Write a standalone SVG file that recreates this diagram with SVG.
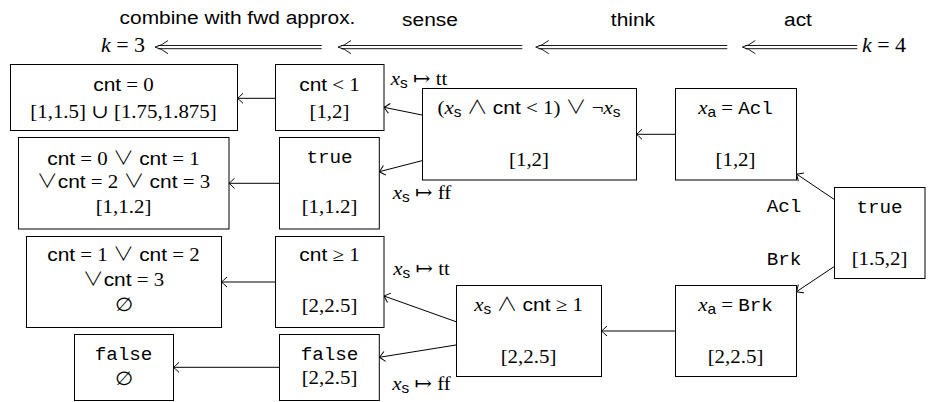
<svg xmlns="http://www.w3.org/2000/svg" width="928" height="402" viewBox="0 0 928 402">
<defs>
<style>
.box{fill:#fff;stroke:#000;stroke-width:1}
.edge{fill:none;stroke:#000;stroke-width:1;marker-end:url(#to)}
.dbl{fill:none;stroke:#000;stroke-width:0.9}
text{font-family:"Liberation Serif","DejaVu Serif",serif;font-size:19px;text-anchor:middle;fill:#000;transform-box:fill-box;transform-origin:center;transform:scaleX(1.1)}
.lbl{font-family:"Liberation Sans","DejaVu Sans",sans-serif;font-size:19px}
.sf{font-family:"Liberation Sans","DejaVu Sans",sans-serif}
.tt{font-family:"Liberation Mono","DejaVu Sans Mono",monospace;font-size:17.5px}
.op{font-family:"Noto Sans CJK JP","DejaVu Serif",serif;font-weight:300}
.it{font-style:italic}
.sub{font-family:"Liberation Sans","DejaVu Sans",sans-serif;font-size:14px}
</style>
<marker id="to" markerUnits="userSpaceOnUse" refX="0" refY="0" orient="auto" overflow="visible">
<path d="M-5.5,-5 Q-1.5,-1.2 0,0 Q-1.5,1.2 -5.5,5" fill="none" stroke="#000" stroke-width="1"/>
</marker>
</defs>

<g id="stages">
<text class="lbl" x="237.5" y="24">combine with fwd approx.</text>
<text class="lbl" x="430" y="26.5">sense</text>
<text class="lbl" x="633" y="26.5">think</text>
<text class="lbl" x="798" y="26.5">act</text>
<text x="123" y="52" style="font-size:20px"><tspan class="it">k</tspan> = 3</text>
<text x="884" y="52" style="font-size:20px"><tspan class="it">k</tspan> = 4</text>
<path class="dbl" d="M158,45.5H321.7M158,48.7H321.7M168,40.5Q161,46 155,47.1Q161,48.2 168,53.7"/>
<path class="dbl" d="M341,45.5H522.3M341,48.7H522.3M351,40.5Q344,46 338,47.1Q344,48.2 351,53.7"/>
<path class="dbl" d="M538.7,45.5H727.3M538.7,48.7H727.3M548.7,40.5Q541.7,46 535.7,47.1Q541.7,48.2 548.7,53.7"/>
<path class="dbl" d="M745.3,45.5H857.3M745.3,48.7H857.3M755.3,40.5Q748.3,46 742.3,47.1Q748.3,48.2 755.3,53.7"/>
</g>

<g id="connectors">
<path class="edge" d="M275,98.3L237.5,98.3"/>
<path class="edge" d="M279,183.3L229,183.3"/>
<path class="edge" d="M275,282L221.5,282"/>
<path class="edge" d="M279,367.3L173.5,367.3"/>
<path class="edge" d="M422,115L384,107.3"/>
<path class="edge" d="M422,160.7L379.3,171.7"/>
<path class="edge" d="M456,321.7L384,296"/>
<path class="edge" d="M456,345L379.3,357.3"/>
<path class="edge" d="M675,134.3L636.5,134.3"/>
<path class="edge" d="M675,331L601.5,331"/>
<path class="edge" d="M834,199.3L796.5,174"/>
<path class="edge" d="M834,266.7L796.5,291.7"/>
<text x="419" y="85"><tspan class="it">x</tspan><tspan class="sub" dy="3">s</tspan><tspan dy="-3"> ↦ tt</tspan></text>
<text x="422" y="199"><tspan class="it">x</tspan><tspan class="sub" dy="3">s</tspan><tspan dy="-3"> ↦ ff</tspan></text>
<text x="421.5" y="275"><tspan class="it">x</tspan><tspan class="sub" dy="3">s</tspan><tspan dy="-3"> ↦ tt</tspan></text>
<text x="421.5" y="390"><tspan class="it">x</tspan><tspan class="sub" dy="3">s</tspan><tspan dy="-3"> ↦ ff</tspan></text>
<text class="tt" x="784" y="212">Acl</text>
<text class="tt" x="784" y="265">Brk</text>
</g>

<g id="n_b1">
<rect class="box" x="10.5" y="64.5" width="227" height="66"/>
<text x="123.5" y="91"><tspan class="sf">cnt</tspan> = 0</text>
<text x="123.5" y="118">[1,1.5] ∪ [1.75,1.875]</text>
</g>
<g id="n_c1">
<rect class="box" x="275.5" y="64.5" width="108.5" height="66"/>
<text x="329.5" y="91"><tspan class="sf">cnt</tspan> &lt; 1</text>
<text x="329.5" y="118">[1,2]</text>
</g>
<g id="n_b2">
<rect class="box" x="18.5" y="137.5" width="210.5" height="91.5"/>
<text x="123.5" y="165"><tspan class="sf">cnt</tspan> = 0 <tspan class="op">∨</tspan> <tspan class="sf">cnt</tspan> = 1</text>
<text x="123.5" y="188"><tspan class="op">∨</tspan><tspan class="sf">cnt</tspan> = 2 <tspan class="op">∨</tspan> <tspan class="sf">cnt</tspan> = 3</text>
<text x="123.5" y="213">[1,1.2]</text>
</g>
<g id="n_c2">
<rect class="box" x="279.5" y="137.5" width="99.8" height="91.5"/>
<text class="tt" x="329.5" y="163">true</text>
<text x="329.5" y="213">[1,1.2]</text>
</g>
<g id="n_b3">
<rect class="box" x="26.5" y="236.5" width="195" height="91"/>
<text x="123.5" y="261"><tspan class="sf">cnt</tspan> = 1 <tspan class="op">∨</tspan> <tspan class="sf">cnt</tspan> = 2</text>
<text x="123.5" y="286"><tspan class="op">∨</tspan><tspan class="sf">cnt</tspan> = 3</text>
<text x="123.5" y="311">∅</text>
</g>
<g id="n_c3">
<rect class="box" x="275.5" y="236.5" width="108.5" height="91"/>
<text x="329.5" y="261"><tspan class="sf">cnt</tspan> ≥ 1</text>
<text x="329.5" y="312">[2,2.5]</text>
</g>
<g id="n_b4">
<rect class="box" x="74.5" y="334.5" width="99" height="66"/>
<text class="tt" x="123.5" y="360">false</text>
<text x="123.5" y="385">∅</text>
</g>
<g id="n_c4">
<rect class="box" x="279.5" y="334.5" width="99.8" height="66"/>
<text class="tt" x="329.5" y="360">false</text>
<text x="329.5" y="384">[2,2.5]</text>
</g>
<g id="n_d1">
<rect class="box" x="422.5" y="88.5" width="214" height="91.5"/>
<text x="529" y="114">(<tspan class="it">x</tspan><tspan class="sub" dy="3">s</tspan><tspan dy="-3"> </tspan><tspan class="op">∧</tspan> <tspan class="sf">cnt</tspan> &lt; 1) <tspan class="op">∨</tspan> ¬<tspan class="it">x</tspan><tspan class="sub" dy="3">s</tspan></text>
<text x="529" y="166">[1,2]</text>
</g>
<g id="n_e1">
<rect class="box" x="675.5" y="88.5" width="121" height="91.5"/>
<text x="735.5" y="114"><tspan class="it">x</tspan><tspan class="sub" dy="3">a</tspan><tspan dy="-3"> = </tspan><tspan class="tt">Acl</tspan></text>
<text x="735.5" y="166">[1,2]</text>
</g>
<g id="n_f">
<rect class="box" x="834.5" y="187.5" width="90.5" height="91"/>
<text class="tt" x="879.5" y="213">true</text>
<text x="879.5" y="265">[1.5,2]</text>
</g>
<g id="n_d2">
<rect class="box" x="456.5" y="285.5" width="145" height="91"/>
<text x="528.5" y="311.5"><tspan class="it">x</tspan><tspan class="sub" dy="3">s</tspan><tspan dy="-3"> </tspan><tspan class="op">∧</tspan> <tspan class="sf">cnt</tspan> ≥ 1</text>
<text x="528.5" y="363">[2,2.5]</text>
</g>
<g id="n_e2">
<rect class="box" x="675.5" y="285.5" width="121" height="91"/>
<text x="735.5" y="311.5"><tspan class="it">x</tspan><tspan class="sub" dy="3">a</tspan><tspan dy="-3"> = </tspan><tspan class="tt">Brk</tspan></text>
<text x="735.5" y="363">[2,2.5]</text>
</g>
</svg>
